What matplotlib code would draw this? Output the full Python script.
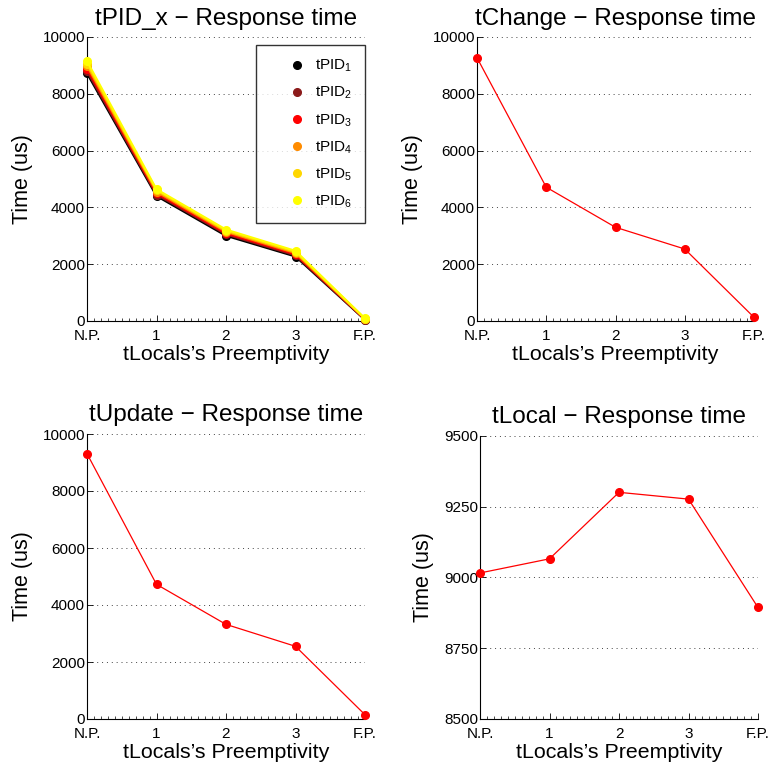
import matplotlib
matplotlib.use("Agg")
import matplotlib.pyplot as plt
from matplotlib.ticker import MultipleLocator
from matplotlib.lines import Line2D

plt.rcParams['font.family'] = ['Liberation Sans', 'DejaVu Sans']
plt.rcParams['mathtext.fontset'] = 'custom'
plt.rcParams['mathtext.rm'] = 'Liberation Sans'
plt.rcParams['mathtext.it'] = 'Liberation Sans:italic'

# x categories
x_labels = ['N.P.', '1', '2', '3', 'F.P.']
x_pos = [0, 1, 2, 3, 4]

# tPID_x response times (us), one list per task
tpid_names = ['tPID$_\\mathregular{1}$', 'tPID$_\\mathregular{2}$', 'tPID$_\\mathregular{3}$',
              'tPID$_\\mathregular{4}$', 'tPID$_\\mathregular{5}$', 'tPID$_\\mathregular{6}$']
tpid1 = [8720, 4400, 3000, 2270, 40]
tpid2 = [8800, 4450, 3050, 2310, 50]
tpid3 = [8890, 4500, 3090, 2350, 60]
tpid4 = [8980, 4550, 3140, 2390, 70]
tpid5 = [9060, 4600, 3180, 2430, 80]
tpid6 = [9150, 4640, 3220, 2470, 90]
tpid_colors = ['#000000', '#8b1a1a', '#ff0000', '#ff8c00', '#ffd700', '#ffff00']

tchange = [9270, 4710, 3300, 2535, 130]
tupdate = [9310, 4725, 3320, 2550, 150]
tlocal = [9016, 9066, 9301, 9277, 8894]

W, H = 771, 769
fig = plt.figure(figsize=(W / 100, H / 100), dpi=100)


def px_axes(left, top, right, bottom):
    return fig.add_axes([left / W, 1 - bottom / H, (right - left) / W, (bottom - top) / H])


def style_axes(ax, title, ylim, yticks):
    ax.set_xlim(0, 4)
    ax.set_ylim(*ylim)
    ax.set_xticks(x_pos)
    ax.set_xticklabels(x_labels)
    ax.set_yticks(yticks)
    ax.xaxis.set_minor_locator(MultipleLocator(0.1))
    ax.tick_params(which='both', direction='in', labelsize=11, top=False, right=False)
    ax.tick_params(which='major', length=4, width=0.6)
    ax.tick_params(which='minor', length=2, width=0.5)
    ax.tick_params(axis='x', pad=6)
    ax.tick_params(axis='y', pad=1.5)
    ax.spines['top'].set_visible(False)
    ax.spines['right'].set_visible(False)
    for s in ('left', 'bottom'):
        ax.spines[s].set_linewidth(0.8)
    ax.yaxis.grid(True, linestyle=(0, (1, 4)), color='#444444', linewidth=0.7)
    ax.set_axisbelow(True)
    ax.set_title(title, fontsize=17.5, pad=9)
    ax.set_xlabel('tLocals\u2019s Preemptivity', fontsize=15.4, labelpad=1)
    ax.set_ylabel('Time (us)', fontsize=15.5, labelpad=7)


# tPID_x
ax1 = px_axes(87, 37, 365, 321)
for vals, c in zip([tpid1, tpid2, tpid3, tpid4, tpid5, tpid6], tpid_colors):
    ax1.plot(x_pos, vals, '-o', color=c, markersize=5.5, linewidth=1.5, clip_on=False, zorder=3)
style_axes(ax1, 'tPID_x \u2212 Response time', (0, 10000), [0, 2000, 4000, 6000, 8000, 10000])
handles = [Line2D([], [], linestyle='none', marker='o', color=c, markersize=5.5) for c in tpid_colors]
leg = ax1.legend(handles, tpid_names, loc='upper right', bbox_to_anchor=(1.0, 0.972),
                 borderaxespad=0, fontsize=11, frameon=True, fancybox=False,
                 labelspacing=0.7, handletextpad=-0.65, borderpad=0.85, handlelength=3.66)
leg.get_frame().set_edgecolor('black')
leg.get_frame().set_linewidth(1.0)

# tChange
ax2 = px_axes(477, 37, 754, 321)
ax2.plot(x_pos, tchange, '-o', color='red', markersize=5.5, linewidth=0.9, clip_on=False, zorder=3)
style_axes(ax2, 'tChange \u2212 Response time', (0, 10000), [0, 2000, 4000, 6000, 8000, 10000])

# tUpdate
ax3 = px_axes(87, 434, 365, 719)
ax3.plot(x_pos, tupdate, '-o', color='red', markersize=5.5, linewidth=0.9, clip_on=False, zorder=3)
style_axes(ax3, 'tUpdate \u2212 Response time', (0, 10000), [0, 2000, 4000, 6000, 8000, 10000])

# tLocal
ax4 = px_axes(480, 436, 758, 719)
ax4.plot(x_pos, tlocal, '-o', color='red', markersize=5.5, linewidth=0.9, clip_on=False, zorder=3)
style_axes(ax4, 'tLocal \u2212 Response time', (8500, 9500), [8500, 8750, 9000, 9250, 9500])

fig.savefig('out.png', dpi=100)
